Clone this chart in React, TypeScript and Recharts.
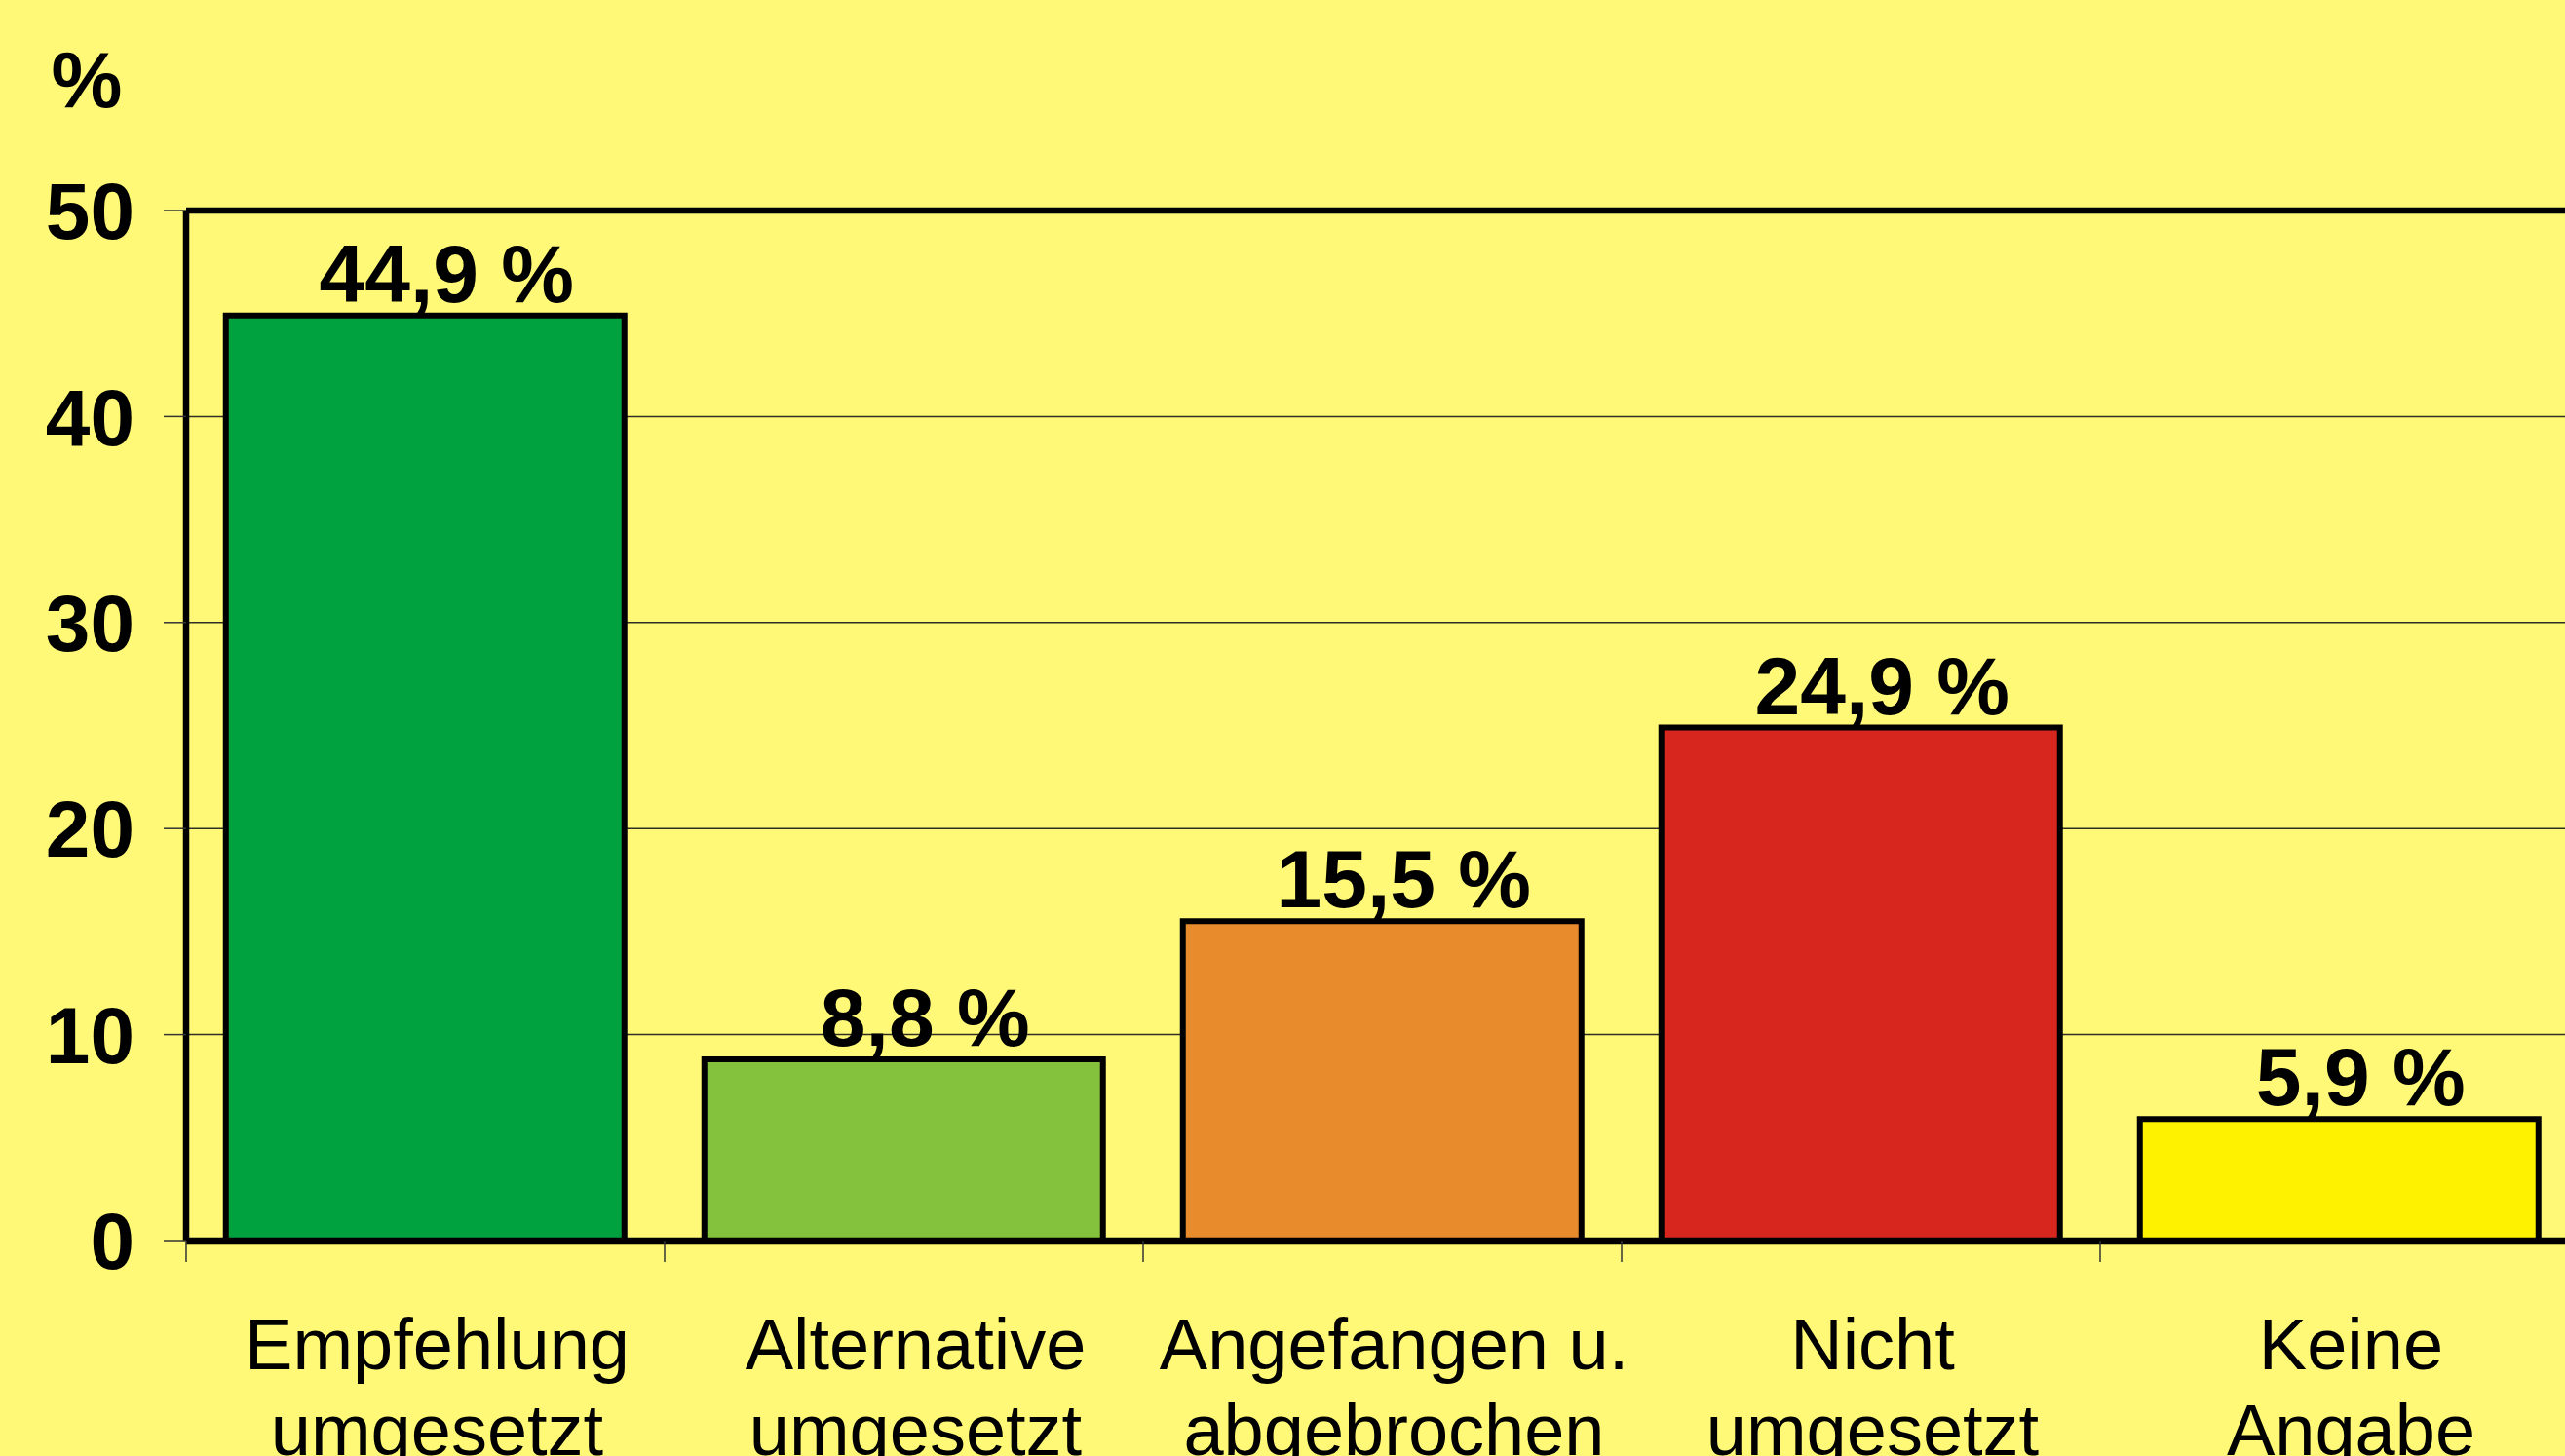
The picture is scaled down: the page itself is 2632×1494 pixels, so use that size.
import { BarChart, Bar, XAxis, YAxis, CartesianGrid, ReferenceLine, Cell, LabelList } from 'recharts';

// data
const categories = [
    'Empfehlung\numgesetzt',
    'Alternative\numgesetzt',
    'Angefangen u.\nabgebrochen',
    'Nicht\numgesetzt',
    'Keine\nAngabe'
];
const shares = [44.9, 8.8, 15.5, 24.9, 5.9];
const barColors = ['#00A23F', '#84C13D', '#E88B2C', '#D7261E', '#FFF200'];
const yTicks = [0, 10, 20, 30, 40, 50];

const data = categories.map((name, i) => ({ name, share: shares[i] }));

const BG = '#FFF977';
const FONT = '"Liberation Sans", Arial, Helvetica, sans-serif';

const CHART_W = 2700;
const CHART_H = 1494;
const Y_AXIS_W = 191;
const MARGIN_TOP = 216;
const MARGIN_RIGHT = 54;
const X_AXIS_H = 221;
const CAT_W = (CHART_W - Y_AXIS_W - MARGIN_RIGHT) / categories.length;

const fmt = (v: number) => v.toFixed(1).replace('.', ',') + ' %';

function CategoryTick(props: any) {
    const { x, y, payload } = props;
    const cx = Number(x);
    const cy = Number(y);
    const half = CAT_W / 2;
    const lines = String(payload.value).split('\n');
    return (
        <g>
            <line x1={cx - half} x2={cx - half} y1={cy} y2={cy + 22} stroke="#333" strokeWidth={1.5} />
            <text x={cx + 12} y={cy + 132} textAnchor="middle" fontSize={74} fontFamily={FONT} fill="#000">
                {lines.map((l, i) => (
                    <tspan key={i} x={cx + 12} dy={i === 0 ? 0 : 88}>{l}</tspan>
                ))}
            </text>
        </g>
    );
}

function ValueLabel(props: any) {
    const { x, y, width, value } = props;
    return (
        <text
            x={Number(x) + Number(width) / 2 + 22}
            y={Number(y) - 14}
            textAnchor="middle"
            fontSize={84}
            fontWeight="bold"
            fontFamily={FONT}
            fill="#000"
        >
            {fmt(Number(value))}
        </text>
    );
}

export default function App() {
    return (
        <div style={{ position: 'fixed', left: 0, top: 0, width: 2632, height: 1494, overflow: 'hidden', background: BG }}>
            <svg width={200} height={200} style={{ position: 'absolute', left: 0, top: 0 }}>
                <text x={89} y={110} textAnchor="middle" fontSize={82} fontWeight="bold" fontFamily={FONT} fill="#000">%</text>
            </svg>
            <div style={{ position: 'absolute', left: 0, top: 0 }}>
                <BarChart
                    width={CHART_W}
                    height={CHART_H}
                    data={data}
                    margin={{ top: MARGIN_TOP, right: MARGIN_RIGHT, bottom: 0, left: 0 }}
                    barCategoryGap="8.3%"
                >
                    <CartesianGrid vertical={false} stroke="#2e2e22" strokeWidth={1.5} />
                    <XAxis
                        dataKey="name"
                        height={X_AXIS_H}
                        interval={0}
                        tickSize={0}
                        tickMargin={0}
                        tickLine={false}
                        axisLine={{ stroke: '#000', strokeWidth: 6.5 }}
                        tick={<CategoryTick />}
                    />
                    <YAxis
                        width={Y_AXIS_W}
                        domain={[0, 50]}
                        ticks={yTicks}
                        interval={0}
                        tickSize={23}
                        tickMargin={30}
                        axisLine={{ stroke: '#000', strokeWidth: 6.5 }}
                        tickLine={{ stroke: '#333', strokeWidth: 1.5 }}
                        tick={{ fontSize: 82, fontWeight: 'bold', fill: '#000', fontFamily: FONT }}
                    />
                    <ReferenceLine y={50} stroke="#000" strokeWidth={6.5} ifOverflow="visible" />
                    <Bar dataKey="share" stroke="#000" strokeWidth={6} isAnimationActive={false}>
                        {data.map((_, i) => (
                            <Cell key={i} fill={barColors[i]} />
                        ))}
                        <LabelList dataKey="share" content={<ValueLabel />} />
                    </Bar>
                </BarChart>
            </div>
        </div>
    );
}
